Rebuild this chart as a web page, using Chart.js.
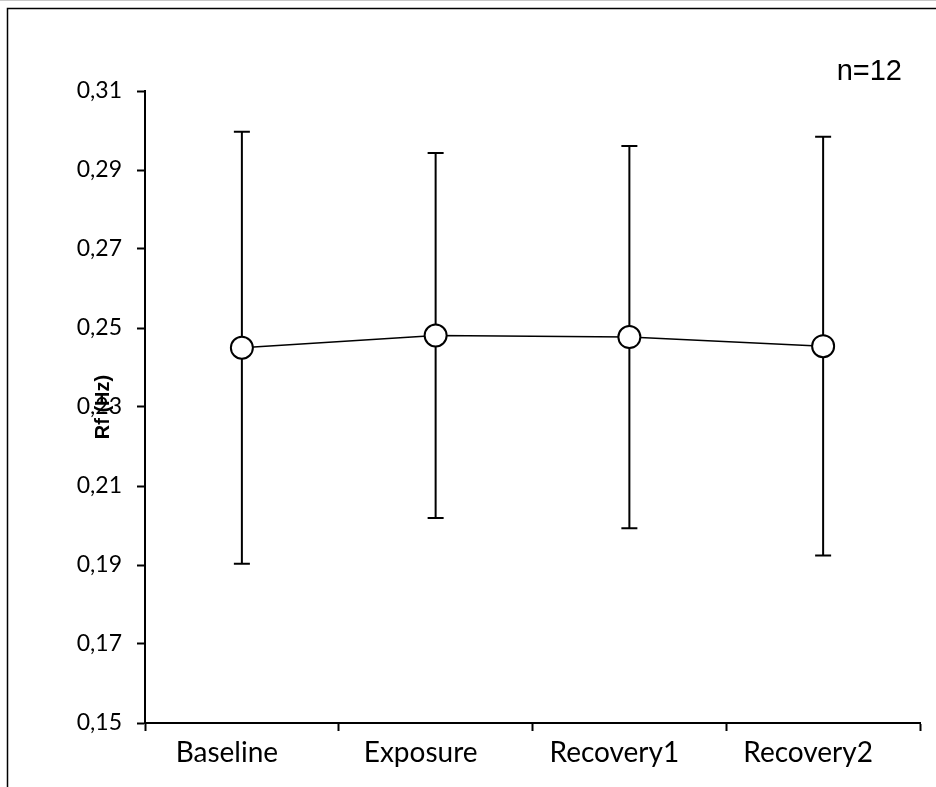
<!DOCTYPE html>
<html>
<head>
<meta charset="utf-8">
<script src="https://cdn.jsdelivr.net/npm/chart.js@4.4.1/dist/chart.umd.min.js"></script>
<style>
  html, body { margin: 0; padding: 0; background: #fff; }
  #wrap { position: relative; width: 936px; height: 787px; }
</style>
</head>
<body>
<div id="wrap"><canvas id="chart" width="936" height="787"></canvas></div>
<script>
// Respiratory frequency per phase (mean ± SD)
const phases = ['Baseline', 'Exposure', 'Recovery1', 'Recovery2'];
const rfMean = [0.2450, 0.2481, 0.2477, 0.2454];
const rfSD = [0.0547, 0.0462, 0.0484, 0.0530];
const yMin = 0.15;
const yMax = 0.31;
const yStep = 0.02;
const yTitle = 'Rf (Hz)';
const sampleNote = 'n=12';

const FONT = 'Lato, "Liberation Sans", Arial, sans-serif';

// Mean ± SD whiskers, drawn under the markers
const errorBars = {
  id: 'errorBars',
  beforeDatasetsDraw(chart) {
    const ctx = chart.ctx;
    const xs = chart.scales.x, ys = chart.scales.y;
    ctx.save();
    ctx.strokeStyle = '#000';
    ctx.lineWidth = 2;
    rfMean.forEach((m, i) => {
      const x = xs.getPixelForValue(i);
      const yTop = ys.getPixelForValue(m + rfSD[i]);
      const yBot = ys.getPixelForValue(m - rfSD[i]);
      ctx.beginPath();
      ctx.moveTo(x, yTop); ctx.lineTo(x, yBot);
      ctx.moveTo(x - 8, yTop); ctx.lineTo(x + 8, yTop);
      ctx.moveTo(x - 8, yBot); ctx.lineTo(x + 8, yBot);
      ctx.stroke();
    });
    ctx.restore();
  }
};

// Page background, frame, axis title and sample-size note
const decorations = {
  id: 'decorations',
  beforeDraw(chart) {
    const ctx = chart.ctx;
    ctx.save();
    ctx.fillStyle = '#fff';
    ctx.fillRect(0, 0, chart.width, chart.height);
    ctx.strokeStyle = '#c8c8c8';
    ctx.lineWidth = 1;
    ctx.beginPath(); ctx.moveTo(0, 0.5); ctx.lineTo(chart.width, 0.5); ctx.stroke();
    ctx.strokeStyle = '#000';
    ctx.lineWidth = 1.5;
    ctx.beginPath();
    ctx.moveTo(7.5, chart.height);
    ctx.lineTo(7.5, 8.5);
    ctx.lineTo(chart.width, 8.5);
    ctx.stroke();
    ctx.restore();
  },
  afterDraw(chart) {
    const ctx = chart.ctx;
    const area = chart.chartArea;
    ctx.save();
    ctx.fillStyle = '#000';
    ctx.font = '29px "Liberation Sans", Arial, sans-serif';
    ctx.textAlign = 'right';
    ctx.textBaseline = 'alphabetic';
    ctx.fillText(sampleNote, 902, 80);

    ctx.translate(103, (area.top + area.bottom) / 2);
    ctx.rotate(-Math.PI / 2);
    ctx.font = 'bold 20px "Liberation Sans", Arial, sans-serif';
    ctx.textAlign = 'center';
    ctx.textBaseline = 'middle';
    ctx.fillText(yTitle, 0, 0);
    ctx.restore();
  }
};

new Chart(document.getElementById('chart'), {
  type: 'line',
  data: {
    labels: phases,
    datasets: [{
      data: rfMean,
      borderColor: '#000',
      borderWidth: 1.5,
      tension: 0,
      pointRadius: 11,
      pointHoverRadius: 11,
      pointBorderWidth: 2,
      pointBorderColor: '#000',
      pointBackgroundColor: '#fff',
      clip: false
    }]
  },
  options: {
    responsive: false,
    animation: false,
    events: [],
    layout: { padding: { left: 10, right: 16, top: 91, bottom: 0 } },
    plugins: { legend: { display: false }, tooltip: { enabled: false } },
    scales: {
      x: {
        type: 'category',
        offset: true,
        afterFit(scale) { scale.height = 64; },
        border: { display: true, color: '#000', width: 2 },
        grid: {
          offset: true,
          drawOnChartArea: false,
          drawTicks: true,
          tickLength: 8,
          tickWidth: 2,
          tickColor: '#000'
        },
        ticks: {
          color: '#000',
          font: { family: FONT, size: 28 },
          padding: 5,
          labelOffset: -15,
          maxRotation: 0,
          autoSkip: false
        }
      },
      y: {
        min: yMin,
        max: yMax,
        afterFit(scale) { scale.width = 135; },
        border: { display: true, color: '#000', width: 2 },
        grid: {
          drawOnChartArea: false,
          drawTicks: true,
          tickLength: 8,
          tickWidth: 2,
          tickColor: '#000'
        },
        ticks: {
          stepSize: yStep,
          color: '#000',
          font: { family: FONT, size: 23 },
          padding: 15,
          callback: (v) => v.toFixed(2).replace('.', ',')
        }
      }
    }
  },
  plugins: [decorations, errorBars]
});
</script>
</body>
</html>
